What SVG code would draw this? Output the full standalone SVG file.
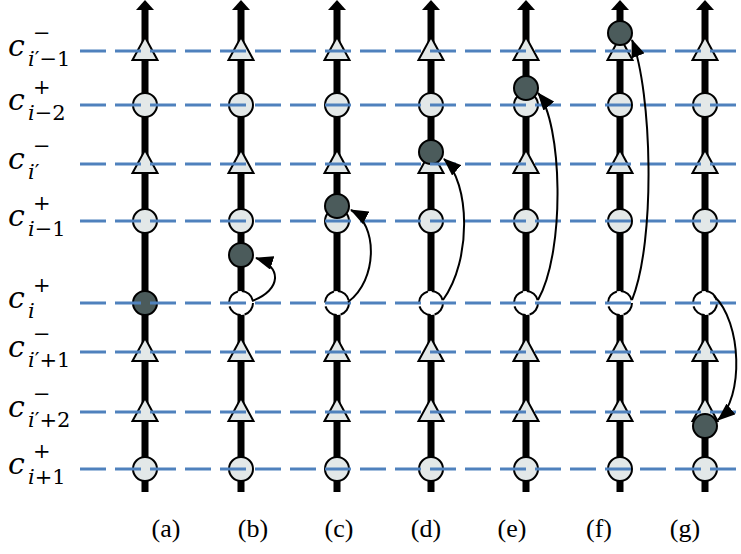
<svg xmlns="http://www.w3.org/2000/svg" xmlns:xlink="http://www.w3.org/1999/xlink" width="741" height="554" viewBox="0 0 741 554">
<style>
.lt{fill:#e3e8e8;stroke:#000;stroke-width:2}
.dk{fill:#4b5b5b;stroke:#000;stroke-width:2}
.ds{fill:#fff;stroke:#000;stroke-width:2;stroke-dasharray:15 4}
.bar{stroke:#000;stroke-width:7}
.head{fill:#000}
.grid{stroke:#4f81bd;stroke-width:3;stroke-dasharray:26 9;fill:none}
.arr{fill:none;stroke:#000;stroke-width:2;marker-end:url(#ah)}
.c{font-family:"DejaVu Serif",serif;font-style:italic;font-size:30px;fill:#000}
.sp{font-style:normal;font-size:21px}
.sb{font-style:normal;font-size:21px}
.it{font-style:italic}
.cap{font-family:"Liberation Serif",serif;font-size:26px;fill:#000;text-anchor:middle}
</style>
<defs>
<path id="tri" d="M0,-14 L12.5,9 L-12.5,9 Z"/>
<circle id="cir" r="12"/>
<marker id="ah" viewBox="0 0 18 14" refX="17" refY="7" markerWidth="18" markerHeight="14" markerUnits="userSpaceOnUse" orient="auto">
<path d="M0,0 L18,7 L0,14 Z" fill="#000"/>
</marker>
</defs>

<g id="axes">
<line class="bar" x1="145" y1="492" x2="145" y2="8"/><polygon class="head" points="136,10 145,0 154,10"/>
<line class="bar" x1="241" y1="492" x2="241" y2="8"/><polygon class="head" points="232,10 241,0 250,10"/>
<line class="bar" x1="337" y1="492" x2="337" y2="8"/><polygon class="head" points="328,10 337,0 346,10"/>
<line class="bar" x1="431" y1="492" x2="431" y2="8"/><polygon class="head" points="422,10 431,0 440,10"/>
<line class="bar" x1="526" y1="492" x2="526" y2="8"/><polygon class="head" points="517,10 526,0 535,10"/>
<line class="bar" x1="620" y1="492" x2="620" y2="8"/><polygon class="head" points="611,10 620,0 629,10"/>
<line class="bar" x1="705" y1="492" x2="705" y2="8"/><polygon class="head" points="696,10 705,0 714,10"/>
</g>

<g id="nodes-a">
<g id="a1"><use xlink:href="#tri" class="lt" x="145" y="51"/></g>
<g id="a2"><use xlink:href="#cir" class="lt" x="145" y="105"/></g>
<g id="a3"><use xlink:href="#tri" class="lt" x="145" y="164"/></g>
<g id="a4"><use xlink:href="#cir" class="lt" x="145" y="221"/></g>
<g id="a5"><use xlink:href="#cir" class="dk" x="145" y="303"/></g>
<g id="a6"><use xlink:href="#tri" class="lt" x="145" y="352"/></g>
<g id="a7"><use xlink:href="#tri" class="lt" x="145" y="412"/></g>
<g id="a8"><use xlink:href="#cir" class="lt" x="145" y="469"/></g>
</g>
<g id="nodes-b">
<g id="b1"><use xlink:href="#tri" class="lt" x="241" y="51"/></g>
<g id="b2"><use xlink:href="#cir" class="lt" x="241" y="105"/></g>
<g id="b3"><use xlink:href="#tri" class="lt" x="241" y="164"/></g>
<g id="b4"><use xlink:href="#cir" class="lt" x="241" y="221"/></g>
<g id="b5"><use xlink:href="#cir" class="ds" x="241" y="303"/></g>
<g id="b6"><use xlink:href="#tri" class="lt" x="241" y="352"/></g>
<g id="b7"><use xlink:href="#tri" class="lt" x="241" y="412"/></g>
<g id="b8"><use xlink:href="#cir" class="lt" x="241" y="469"/></g>
<g id="b-moved"><use xlink:href="#cir" class="dk" x="241" y="255"/></g>
</g>
<g id="nodes-c">
<g id="c1"><use xlink:href="#tri" class="lt" x="337" y="51"/></g>
<g id="c2"><use xlink:href="#cir" class="lt" x="337" y="105"/></g>
<g id="c3"><use xlink:href="#tri" class="lt" x="337" y="164"/></g>
<g id="c4"><use xlink:href="#cir" class="lt" x="337" y="221"/></g>
<g id="c5"><use xlink:href="#cir" class="ds" x="337" y="303"/></g>
<g id="c6"><use xlink:href="#tri" class="lt" x="337" y="352"/></g>
<g id="c7"><use xlink:href="#tri" class="lt" x="337" y="412"/></g>
<g id="c8"><use xlink:href="#cir" class="lt" x="337" y="469"/></g>
<g id="c-moved"><use xlink:href="#cir" class="dk" x="337" y="206"/></g>
</g>
<g id="nodes-d">
<g id="d1"><use xlink:href="#tri" class="lt" x="431" y="51"/></g>
<g id="d2"><use xlink:href="#cir" class="lt" x="431" y="105"/></g>
<g id="d3"><use xlink:href="#tri" class="lt" x="431" y="164"/></g>
<g id="d4"><use xlink:href="#cir" class="lt" x="431" y="221"/></g>
<g id="d5"><use xlink:href="#cir" class="ds" x="431" y="303"/></g>
<g id="d6"><use xlink:href="#tri" class="lt" x="431" y="352"/></g>
<g id="d7"><use xlink:href="#tri" class="lt" x="431" y="412"/></g>
<g id="d8"><use xlink:href="#cir" class="lt" x="431" y="469"/></g>
<g id="d-moved"><use xlink:href="#cir" class="dk" x="431" y="152"/></g>
</g>
<g id="nodes-e">
<g id="e1"><use xlink:href="#tri" class="lt" x="526" y="51"/></g>
<g id="e2"><use xlink:href="#cir" class="lt" x="526" y="105"/></g>
<g id="e3"><use xlink:href="#tri" class="lt" x="526" y="164"/></g>
<g id="e4"><use xlink:href="#cir" class="lt" x="526" y="221"/></g>
<g id="e5"><use xlink:href="#cir" class="ds" x="526" y="303"/></g>
<g id="e6"><use xlink:href="#tri" class="lt" x="526" y="352"/></g>
<g id="e7"><use xlink:href="#tri" class="lt" x="526" y="412"/></g>
<g id="e8"><use xlink:href="#cir" class="lt" x="526" y="469"/></g>
<g id="e-moved"><use xlink:href="#cir" class="dk" x="526" y="88"/></g>
</g>
<g id="nodes-f">
<g id="f1"><use xlink:href="#tri" class="lt" x="620" y="51"/></g>
<g id="f2"><use xlink:href="#cir" class="lt" x="620" y="105"/></g>
<g id="f3"><use xlink:href="#tri" class="lt" x="620" y="164"/></g>
<g id="f4"><use xlink:href="#cir" class="lt" x="620" y="221"/></g>
<g id="f5"><use xlink:href="#cir" class="ds" x="620" y="303"/></g>
<g id="f6"><use xlink:href="#tri" class="lt" x="620" y="352"/></g>
<g id="f7"><use xlink:href="#tri" class="lt" x="620" y="412"/></g>
<g id="f8"><use xlink:href="#cir" class="lt" x="620" y="469"/></g>
<g id="f-moved"><use xlink:href="#cir" class="dk" x="620" y="33"/></g>
</g>
<g id="nodes-g">
<g id="g1"><use xlink:href="#tri" class="lt" x="705" y="51"/></g>
<g id="g2"><use xlink:href="#cir" class="lt" x="705" y="105"/></g>
<g id="g3"><use xlink:href="#tri" class="lt" x="705" y="164"/></g>
<g id="g4"><use xlink:href="#cir" class="lt" x="705" y="221"/></g>
<g id="g5"><use xlink:href="#cir" class="ds" x="705" y="303"/></g>
<g id="g6"><use xlink:href="#tri" class="lt" x="705" y="352"/></g>
<g id="g7"><use xlink:href="#tri" class="lt" x="705" y="412"/></g>
<g id="g8"><use xlink:href="#cir" class="lt" x="705" y="469"/></g>
<g id="g-moved"><use xlink:href="#cir" class="dk" x="705" y="426"/></g>
</g>

<g id="levels">
<line class="grid" x1="80" y1="51" x2="741" y2="51"/>
<line class="grid" x1="80" y1="105" x2="741" y2="105"/>
<line class="grid" x1="80" y1="164" x2="741" y2="164"/>
<line class="grid" x1="80" y1="221" x2="741" y2="221"/>
<line class="grid" x1="80" y1="303" x2="741" y2="303"/>
<line class="grid" x1="80" y1="352" x2="741" y2="352"/>
<line class="grid" x1="80" y1="412" x2="741" y2="412"/>
<line class="grid" x1="80" y1="469" x2="741" y2="469"/>
</g>

<g id="connectors">
<path class="arr" d="M252,301 C282,290 282,266 256,258"/>
<path class="arr" d="M348,302 C378,280 378,224 351,210"/>
<path class="arr" d="M443,300 C472,260 470,182 444,159"/>
<path class="arr" d="M538,300 C566,250 562,122 538,93"/>
<path class="arr" d="M632,300 C656,240 652,92 632,40"/>
<path class="arr" d="M714,296 C742,322 744,398 718,420"/>
</g>

<g id="labels">
<text class="c" x="8" y="56">c</text><text class="c sp" x="33" y="40">−</text><text class="c sb" x="28" y="66"><tspan class="it">i</tspan>′−1</text>
<text class="c" x="8" y="110">c</text><text class="c sp" x="33" y="94">+</text><text class="c sb" x="28" y="120"><tspan class="it">i</tspan>−2</text>
<text class="c" x="8" y="169">c</text><text class="c sp" x="33" y="153">−</text><text class="c sb" x="28" y="179"><tspan class="it">i</tspan>′</text>
<text class="c" x="8" y="226">c</text><text class="c sp" x="33" y="210">+</text><text class="c sb" x="28" y="236"><tspan class="it">i</tspan>−1</text>
<text class="c" x="8" y="308">c</text><text class="c sp" x="33" y="292">+</text><text class="c sb" x="28" y="318"><tspan class="it">i</tspan></text>
<text class="c" x="8" y="357">c</text><text class="c sp" x="33" y="341">−</text><text class="c sb" x="28" y="367"><tspan class="it">i</tspan>′+1</text>
<text class="c" x="8" y="417">c</text><text class="c sp" x="33" y="401">−</text><text class="c sb" x="28" y="427"><tspan class="it">i</tspan>′+2</text>
<text class="c" x="8" y="474">c</text><text class="c sp" x="33" y="458">+</text><text class="c sb" x="28" y="484"><tspan class="it">i</tspan>+1</text>
</g>

<g id="captions">
<text class="cap" x="166" y="537">(a)</text>
<text class="cap" x="253" y="537">(b)</text>
<text class="cap" x="339" y="537">(c)</text>
<text class="cap" x="426" y="537">(d)</text>
<text class="cap" x="512" y="537">(e)</text>
<text class="cap" x="599" y="537">(f)</text>
<text class="cap" x="685" y="537">(g)</text>
</g>
</svg>
